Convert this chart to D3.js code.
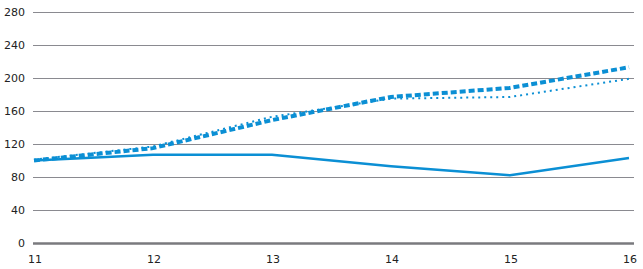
<!DOCTYPE html>
<html>
<head>
<meta charset="utf-8">
<script src="https://cdn.jsdelivr.net/npm/d3@7"></script>
<style>
  body { margin: 0; background: #fff; }
  text { font-family: "DejaVu Sans", sans-serif; font-size: 11px; fill: #222; }
</style>
</head>
<body>
<div id="chart"></div>
<script>
// Data
const years = ["11", "12", "13", "14", "15", "16"];
const solidSeries = [100, 107, 107, 93, 82, 103];
const dashedSeries = [100, 115, 149, 177, 188, 213];
const dottedSeries = [101, 117, 153, 175, 177, 199];
const yTicks = [0, 40, 80, 120, 160, 200, 240, 280];

const margin = { top: 12, right: 14, bottom: 26, left: 34 };
const width = 643 - margin.left - margin.right;
const height = 269 - margin.top - margin.bottom;
const blue = "#0b8fd4";

const svg = d3
  .select("#chart")
  .append("svg")
  .attr("width", 643)
  .attr("height", 269)
  .append("g")
  .attr("transform", `translate(${margin.left},${margin.top})`);

const x = d3.scalePoint().domain(years).range([0, width]);
const y = d3.scaleLinear().domain([0, 280]).range([height, 0]);

// Horizontal gridlines
svg
  .selectAll("line.grid")
  .data(yTicks)
  .enter()
  .append("line")
  .attr("class", "grid")
  .attr("x1", -1)
  .attr("x2", width + 5)
  .attr("y1", (d) => Math.round(y(d)) + 0.5)
  .attr("y2", (d) => Math.round(y(d)) + 0.5)
  .attr("stroke", (d) => (d === 0 ? "#7a7a7e" : "#8a8a90"))
  .attr("stroke-width", (d) => (d === 0 ? 2.5 : 1));

// Y labels
svg
  .selectAll("text.ylab")
  .data(yTicks)
  .enter()
  .append("text")
  .attr("class", "ylab")
  .attr("x", -9)
  .attr("y", (d) => y(d))
  .attr("dy", "0.35em")
  .attr("text-anchor", "end")
  .text((d) => d);

// X labels
svg
  .selectAll("text.xlab")
  .data(years)
  .enter()
  .append("text")
  .attr("class", "xlab")
  .attr("x", (d) => x(d) + 1)
  .attr("y", height + 20)
  .attr("text-anchor", "middle")
  .text((d) => d);

const line = d3
  .line()
  .x((d, i) => x(years[i]))
  .y((d) => y(d));

// Dotted series
svg
  .append("path")
  .datum(dottedSeries)
  .attr("fill", "none")
  .attr("stroke", blue)
  .attr("stroke-width", 2)
  .attr("stroke-dasharray", "2,4")
  .attr("d", line);

// Dashed series
svg
  .append("path")
  .datum(dashedSeries)
  .attr("fill", "none")
  .attr("stroke", blue)
  .attr("stroke-width", 4)
  .attr("stroke-dasharray", "6,3")
  .attr("d", line);

// Solid series
svg
  .append("path")
  .datum(solidSeries)
  .attr("fill", "none")
  .attr("stroke", blue)
  .attr("stroke-width", 2.5)
  .attr("d", line);
</script>
</body>
</html>
